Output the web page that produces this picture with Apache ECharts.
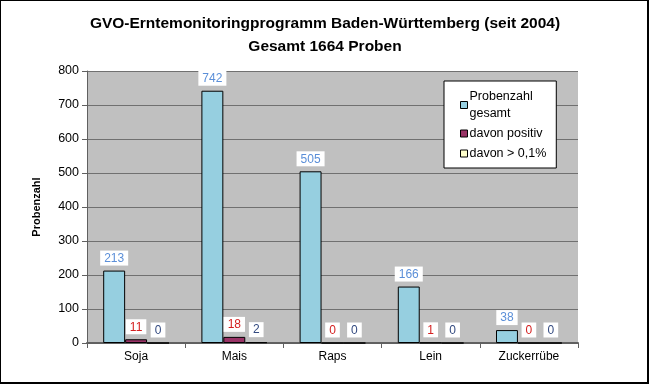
<!DOCTYPE html>
<html><head><meta charset="utf-8">
<script src="https://cdn.jsdelivr.net/npm/echarts@6/dist/echarts.min.js"></script>
<style>
html,body{margin:0;padding:0;background:#fff;}
#frame{position:absolute;left:0;top:0;width:646px;height:381px;border:1px solid #000;border-right:2px solid #000;border-bottom:2px solid #000;}
#c{width:650px;height:385px;position:absolute;left:0;top:0;}
</style></head>
<body>
<div id="frame"></div>
<div id="c"></div>
<script>
var categories = ['Soja', 'Mais', 'Raps', 'Lein', 'Zuckerrübe'];
var seriesNames = ['Probenzahl gesamt', 'davon positiv', 'davon > 0,1%'];
var gesamt = [213, 742, 505, 166, 38];
var positiv = [11, 18, 0, 1, 0];
var ueber01 = [0, 2, 0, 0, 0];
var yTicks = [0, 100, 200, 300, 400, 500, 600, 700, 800];

var colors = ['#96cfe0', '#993366', '#ffffcc'];
var labelColors = ['#5b8fd8', '#d42020', '#334a80'];
var font = 'Liberation Sans, Arial, sans-serif';

function mk(name, data, i) {
  return {
    name: name, type: 'bar', data: data, barGap: '0%', barCategoryGap: '33%',
    itemStyle: {color: colors[i], borderColor: '#000', borderWidth: 1},
    label: {show: true, position: 'top', distance: 5, color: labelColors[i], fontFamily: font, fontSize: 12,
      backgroundColor: '#fff', padding: [2, 4, 1, 4]}
  };
}
var chart = echarts.init(document.getElementById('c'));
chart.setOption({
  animation: false,
  title: {text: 'GVO-Erntemonitoringprogramm Baden-Württemberg (seit 2004)\nGesamt 1664 Proben', left: 'center', top: 7,
    textStyle: {fontFamily: font, fontSize: 15.5, fontWeight: 'bold', color: '#000', lineHeight: 23}},
  legend: {orient: 'vertical', left: 444, top: 81, width: 126, itemWidth: 7, itemHeight: 7, itemGap: 3,
    backgroundColor: '#fff', borderColor: '#000', borderWidth: 1, padding: [7, 10, 6, 16],
    icon: 'rect',
    textStyle: {fontFamily: font, fontSize: 12.5, color: '#000', lineHeight: 17, padding: [0, 0, 0, -3]},
    formatter: function (n) { return n === 'Probenzahl gesamt' ? 'Probenzahl\ngesamt' : n; },
    itemStyle: {borderColor: '#000', borderWidth: 1},
    data: seriesNames},
  grid: {left: 87, right: 72, top: 71, bottom: 42, backgroundColor: '#c0c0c0', show: true, borderWidth: 0},
  xAxis: {type: 'category', data: categories,
    axisLine: {lineStyle: {color: '#606060', width: 2}},
    axisTick: {show: true, length: 5, lineStyle: {color: '#606060'}},
    axisLabel: {fontFamily: font, fontSize: 12, color: '#000', margin: 8}},
  yAxis: {type: 'value', min: 0, max: 800, interval: 100, name: 'Probenzahl', nameLocation: 'middle', nameGap: 45,
    nameTextStyle: {fontFamily: font, fontSize: 11, fontWeight: 'bold', color: '#000'},
    axisLine: {show: true, lineStyle: {color: '#606060', width: 1}},
    axisTick: {show: true, length: 5, lineStyle: {color: '#606060'}},
    axisLabel: {fontFamily: font, fontSize: 12.5, color: '#000', margin: 8,
      formatter: function (v) { return yTicks.indexOf(v) >= 0 ? String(v) : ''; }},
    splitLine: {lineStyle: {color: '#707070', width: 1}}},
  series: [mk(seriesNames[0], gesamt, 0), mk(seriesNames[1], positiv, 1), mk(seriesNames[2], ueber01, 2)]
});
</script>
</body></html>
